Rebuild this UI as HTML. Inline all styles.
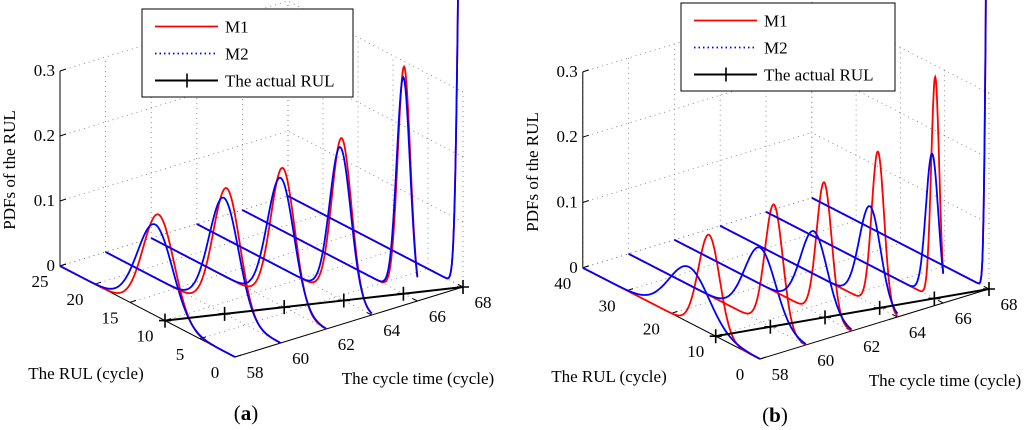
<!DOCTYPE html>
<html><head><meta charset="utf-8"><style>
html,body{margin:0;padding:0;background:#fff;}
svg{display:block;}
svg text{font-family:"Liberation Serif","Times New Roman",serif;}
</style></head><body>
<svg id="chart" width="1024" height="430" viewBox="0 0 1024 430" xmlns="http://www.w3.org/2000/svg" font-family="Liberation Serif, serif"></svg>
<script>
const times = [58, 60, 62, 64, 66, 68];
const actualRUL = [10, 8, 6, 4, 2, 0];
const zTicks = [0, 0.1, 0.2, 0.3];
const zTickLabels = ['0', '0.1', '0.2', '0.3'];
const rTicksA = [0, 5, 10, 15, 20, 25];
const rTicksB = [0, 10, 20, 30, 40];
const tTickLabels = ['58', '60', '62', '64', '66', '68'];
// panel (a)
const aM1Peak = [0.158, 0.195, 0.213, 0.248, 0.35, 0.9];
const aM1Mode = [10.9, 7.7, 6.2, 4.3, 1.9, 0];
const aM1Spread = [2.2, 1.9, 1.7, 1.4, 0.9, 0.6];
const aM2Peak = [0.14, 0.178, 0.196, 0.233, 0.333, 0.9];
const aM2Mode = [11.4, 8.1, 6.5, 4.5, 2.0, 0];
const aM2Spread = [2.5, 2.1, 1.9, 1.5, 0.95, 0.6];
// panel (b)
const bM1Peak = [0.15, 0.19, 0.206, 0.238, 0.34, 0.9];
const bM1Mode = [11.5, 7.2, 6.2, 4.4, 1.8, 0];
const bM1Spread = [2.4, 2.0, 1.7, 1.4, 0.9, 0.6];
const bM2Peak = [0.085, 0.113, 0.123, 0.148, 0.22, 0.9];
const bM2Mode = [16, 10.3, 8.5, 6.2, 2.5, 0];
const bM2Spread = [4.5, 3.5, 3.0, 2.4, 1.4, 0.6];

const svg = document.getElementById('chart');
const NS = 'http://www.w3.org/2000/svg';
const FONT = '"Liberation Serif", serif';
function mk(tag, attrs, parent, text) {
  const e = document.createElementNS(NS, tag);
  for (const k in attrs) e.setAttribute(k, attrs[k]);
  if (tag === 'text') e.setAttribute('font-family', FONT);
  if (text !== undefined) e.textContent = text;
  (parent || svg).appendChild(e);
  return e;
}

function panel(cfg) {
  const g = mk('g', {});
  
  
  const P = (t, r, z) => [cfg.x0 + cfg.tx * (t - 58) + cfg.rx * r, cfg.y0 + cfg.ty * (t - 58) + cfg.ry * r - cfg.zs * z];
  const line = (a, b, st, name) => {
    const l = mk('line', Object.assign({x1: a[0], y1: a[1], x2: b[0], y2: b[1]}, st), g);
    
    
    return l;
  };
  const grid = {stroke: '#777', 'stroke-width': 0.8, 'stroke-dasharray': '1 4'};
  const R = cfg.rmax, T0 = 58, T1 = 68, Z1 = 0.3;
  zTicks.forEach(z => line(P(T0, R, z), P(T1, R, z), grid, 'grid-line'));
  times.forEach(t => line(P(t, R, 0), P(t, R, Z1), grid, 'grid-line'));
  zTicks.forEach(z => line(P(T1, 0, z), P(T1, R, z), grid, 'grid-line'));
  cfg.rTicks.forEach(r => line(P(T1, r, 0), P(T1, r, Z1), grid, 'grid-line'));
  times.forEach(t => line(P(t, 0, 0), P(t, R, 0), grid, 'grid-line'));
  cfg.rTicks.forEach(r => line(P(T0, r, 0), P(T1, r, 0), grid, 'grid-line'));
  const ax = {stroke: '#000', 'stroke-width': 1};
  line(P(T0, R, 0), P(T0, R, Z1), ax, 'z-axis');
  line(P(T0, R, 0), P(T0, 0, 0), ax, 'rul-axis');
  line(P(T0, 0, 0), P(T1, 0, 0), ax, 'time-axis');
  zTicks.forEach((z, i) => {
    const p = P(T0, R, z);
    line(p, [p[0] + 6, p[1] - 2], ax, 'z-tick');
    const tx = mk('text', {x: p[0] - 5, y: p[1] + 5, 'font-size': 17, 'text-anchor': 'end'}, g, zTickLabels[i]);
    
    
  });
  cfg.rTicks.forEach(r => {
    const p = P(T0, r, 0);
    line(p, [p[0] + 6, p[1] - 2], ax, 'rul-tick');
    const tx = mk('text', {x: p[0] - 20, y: p[1] + 21, 'font-size': 17, 'text-anchor': 'middle'}, g, String(r));
    
    
  });
  times.forEach((t, i) => {
    const p = P(t, 0, 0);
    line(p, [p[0] - 5, p[1] - 2.6], ax, 'time-tick');
    const tx = mk('text', {x: p[0] + 20, y: p[1] + 21, 'font-size': 17, 'text-anchor': 'middle'}, g, tTickLabels[i]);
    
    
  });
  const curve = (t, peak, mode, spread, color, name) => {
    let d = '';
    for (let r = R; r >= -0.001; r -= 0.1) {
      const rr = Math.max(r, 0);
      const z = peak * Math.exp(-0.5 * Math.pow((rr - mode) / spread, 2));
      const p = P(t, rr, z);
      d += (d ? 'L' : 'M') + p[0].toFixed(1) + ' ' + p[1].toFixed(1);
    }
    const path = mk('path', {d: d, fill: 'none', stroke: color, 'stroke-width': 1.8}, g);
    
    
  };
  times.forEach((t, i) => {
    curve(t, cfg.m1Peak[i], cfg.m1Mode[i], cfg.m1Spread[i], '#f00', 'm1-pdf-t' + t);
    curve(t, cfg.m2Peak[i], cfg.m2Mode[i], cfg.m2Spread[i], '#00f', 'm2-pdf-t' + t);
  });
  let d = '';
  times.forEach((t, i) => { const p = P(t, actualRUL[i], 0); d += (i ? 'L' : 'M') + p[0] + ' ' + p[1]; });
  const al = mk('path', {d: d, fill: 'none', stroke: '#000', 'stroke-width': 2}, g);
  
  
  times.forEach((t, i) => {
    const p = P(t, actualRUL[i], 0);
    const m = mk('path', {d: `M${p[0] - 6} ${p[1]}h12M${p[0]} ${p[1] - 7}v14`, stroke: '#000', 'stroke-width': 1.6}, g);
    
    
  });
  const t1 = mk('text', {x: cfg.rTitle[0], y: cfg.rTitle[1], 'font-size': 17, 'text-anchor': 'middle'}, g, 'The RUL (cycle)');
   
  const t2 = mk('text', {x: cfg.tTitle[0], y: cfg.tTitle[1], 'font-size': 17, 'text-anchor': 'middle'}, g, 'The cycle time (cycle)');
   
  const t3 = mk('text', {x: 0, y: 0, 'font-size': 17, 'text-anchor': 'middle', transform: `translate(${cfg.zTitle[0]},${cfg.zTitle[1]}) rotate(-90)`}, g, 'PDFs of the RUL');
   
  const t4 = mk('text', {x: cfg.label[0], y: cfg.label[1], 'font-size': 21, 'text-anchor': 'middle'}, g);
   
  mk('tspan', {}, t4, '(');
  mk('tspan', {'font-weight': 'bold'}, t4, cfg.letter);
  mk('tspan', {}, t4, ')');
  const L = cfg.legend;
  const lg = mk('g', {}, g);
   
  mk('rect', {x: L[0], y: L[1], width: L[2], height: L[3], fill: '#fff', stroke: '#000', 'stroke-width': 1}, lg);
  const ent = [['M1', '#f00', 'none'], ['M2', '#00f', '1.5 3'], ['The actual RUL', '#000', 'none']];
  ent.forEach((e, i) => {
    const y = L[1] + 17.5 + i * 27;
    const x = L[0] + 13;
    mk('line', {x1: x, y1: y, x2: x + 63, y2: y, stroke: e[1], 'stroke-width': i === 2 ? 2 : 1.8, 'stroke-dasharray': e[2]}, lg);
    if (i === 2) mk('line', {x1: x + 32, y1: y - 7, x2: x + 32, y2: y + 7, stroke: '#000', 'stroke-width': 1.6}, lg);
    const tx = mk('text', {x: x + 70, y: y + 6, 'font-size': 17}, lg, e[0]);
     
  });
}

panel({name: 'panel-a', letter: 'a', x0: 235, y0: 357, tx: 22.8, ty: -7, rx: -7, ry: -3.64, zs: 650, rmax: 25, rTicks: rTicksA,
  m1Peak: aM1Peak, m1Mode: aM1Mode, m1Spread: aM1Spread, m2Peak: aM2Peak, m2Mode: aM2Mode, m2Spread: aM2Spread,
  rTitle: [86, 379], tTitle: [418, 384], zTitle: [15, 170], label: [246, 420], legend: [142, 9, 211, 88]});
panel({name: 'panel-b', letter: 'b', x0: 760, y0: 359, tx: 22.9, ty: -7, rx: -4.43, ry: -2.28, zs: 653, rmax: 40, rTicks: rTicksB,
  m1Peak: bM1Peak, m1Mode: bM1Mode, m1Spread: bM1Spread, m2Peak: bM2Peak, m2Mode: bM2Mode, m2Spread: bM2Spread,
  rTitle: [609, 382], tTitle: [945, 386], zTitle: [538, 172], label: [775, 422], legend: [681, 3, 214, 88]});
</script>
</body></html>
